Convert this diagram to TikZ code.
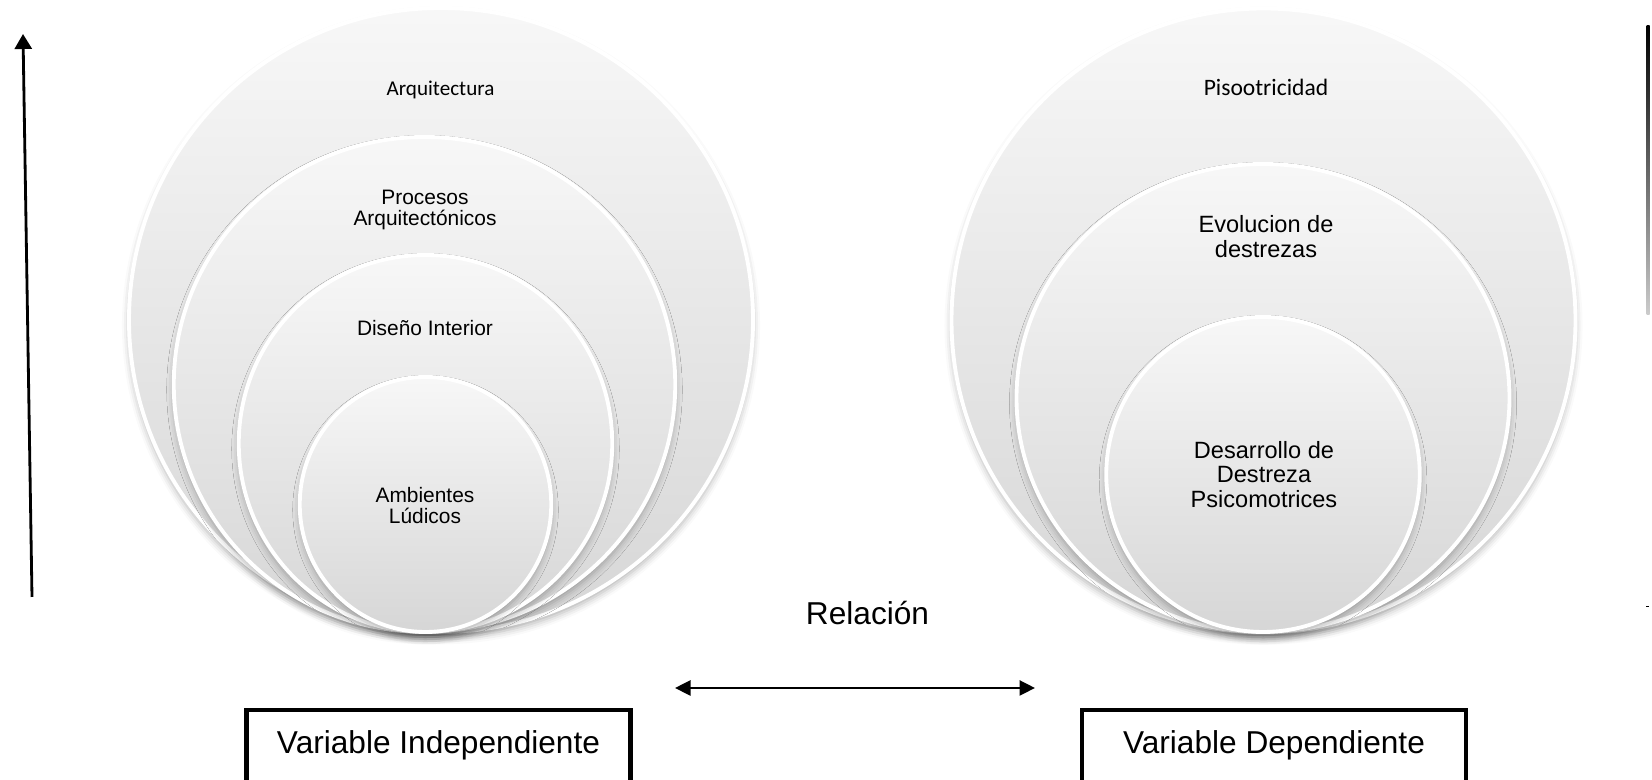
\documentclass[tikz,border=0pt]{standalone}
\usepackage{fontspec}
\setmainfont{Liberation Sans}
\newfontfamily\calibri{Carlito}
\usetikzlibrary{arrows.meta, shapes.geometric, shadows.blur}
\tikzset{
    anillo/.style={ellipse, inner sep=0pt, draw=white, line width=2.2pt,
        top color=gray!6, bottom color=gray!32,
        blur shadow={shadow xshift=0pt, shadow yshift=-3pt, shadow blur radius=4pt, shadow opacity=30}}, % circulos anidados
    etiqueta/.style={align=center, font=\fontsize{11.9}{12.4}\selectfont}, % textos del grupo izquierdo
    etiquetab/.style={align=center, font=\fontsize{13.4}{13.8}\selectfont}, % textos del grupo derecho
    caja/.style={draw, line width=2.3pt, minimum width=7.68cm, text height=0.6cm, text depth=1cm,
        inner ysep=0.28cm, font=\fontsize{18}{20}\selectfont, anchor=base}, % cajas de las variables
}
\tikzstyle{flecha} = [line width=1.6pt, -{Triangle[length=0.3cm, width=0.34cm]}]

\begin{document}
\begin{tikzpicture}
    \useasboundingbox (0,0) rectangle (33.04,15.6);
    \clip (0,0) rectangle (33.04,15.6);

    % Flecha vertical izquierda
    \coordinate (abajo) at (0.64,3.66);
    \coordinate (arriba) at (0.46,14.92);
    \draw[flecha] (abajo) -- (arriba);

    % Grupo izquierdo (variable independiente)
    \node[anillo, minimum width=12.48cm, minimum height=12.48cm] (arq) at (8.82,9.20) {};
    \node[anillo, minimum width=10.03cm, minimum height=9.90cm] (proc) at (8.49,7.91) {};
    \node[anillo, minimum width=7.47cm, minimum height=7.54cm] (dis) at (8.51,6.73) {};
    \node[anillo, minimum width=5.03cm, minimum height=5.10cm] (amb) at (8.51,5.51) {};
    \node[etiqueta, font=\calibri\fontsize{12}{14}\selectfont] (tArq) at (8.81,13.80) {Arquitectura};
    \node[etiqueta] (tProc) at (8.50,11.40) {Procesos\\Arquitectónicos};
    \node[etiqueta] (tDis) at (8.50,9.04) {Diseño Interior};
    \node[etiqueta] (tAmb) at (8.50,5.49) {Ambientes\\Lúdicos};

    % Grupo derecho (variable dependiente)
    \node[anillo, minimum width=12.48cm, minimum height=12.48cm] (pis) at (25.27,9.19) {};
    \node[anillo, minimum width=9.86cm, minimum height=9.36cm] (evo) at (25.26,7.64) {};
    \node[anillo, minimum width=6.27cm, minimum height=6.30cm] (des) at (25.26,6.11) {};
    \node[etiquetab, font=\calibri\fontsize{13.4}{15}\selectfont] (tPis) at (25.32,13.86) {Pisootricidad};
    \node[etiquetab] (tEvo) at (25.32,10.87) {Evolucion de\\destrezas};
    \node[etiquetab] (tDes) at (25.28,6.11) {Desarrollo de\\Destreza\\Psicomotrices};

    % Relacion entre las variables
    \node[font=\fontsize{18}{20}\selectfont] (rel) at (17.35,3.34) {Relación};
    \coordinate (relIzq) at (13.50,1.84);
    \coordinate (relDer) at (20.70,1.84);
    \draw[line width=1.5pt, {Triangle[length=0.31cm, width=0.3cm]}-{Triangle[length=0.31cm, width=0.3cm]}] (relIzq) -- (relDer);

    % Cajas de las variables
    \node[caja] (vInd) at (8.77,0.52) {Variable Independiente};
    \node[caja] (vDep) at (25.48,0.52) {Variable Dependiente};

    % Linea del borde derecho
    \shade[top color=black, middle color=black, bottom color=gray!40] (32.93,9.3) rectangle (32.99,15.08);
    \draw[line width=0.5pt] (32.92,3.48) -- (32.98,3.48);
\end{tikzpicture}
\end{document}
